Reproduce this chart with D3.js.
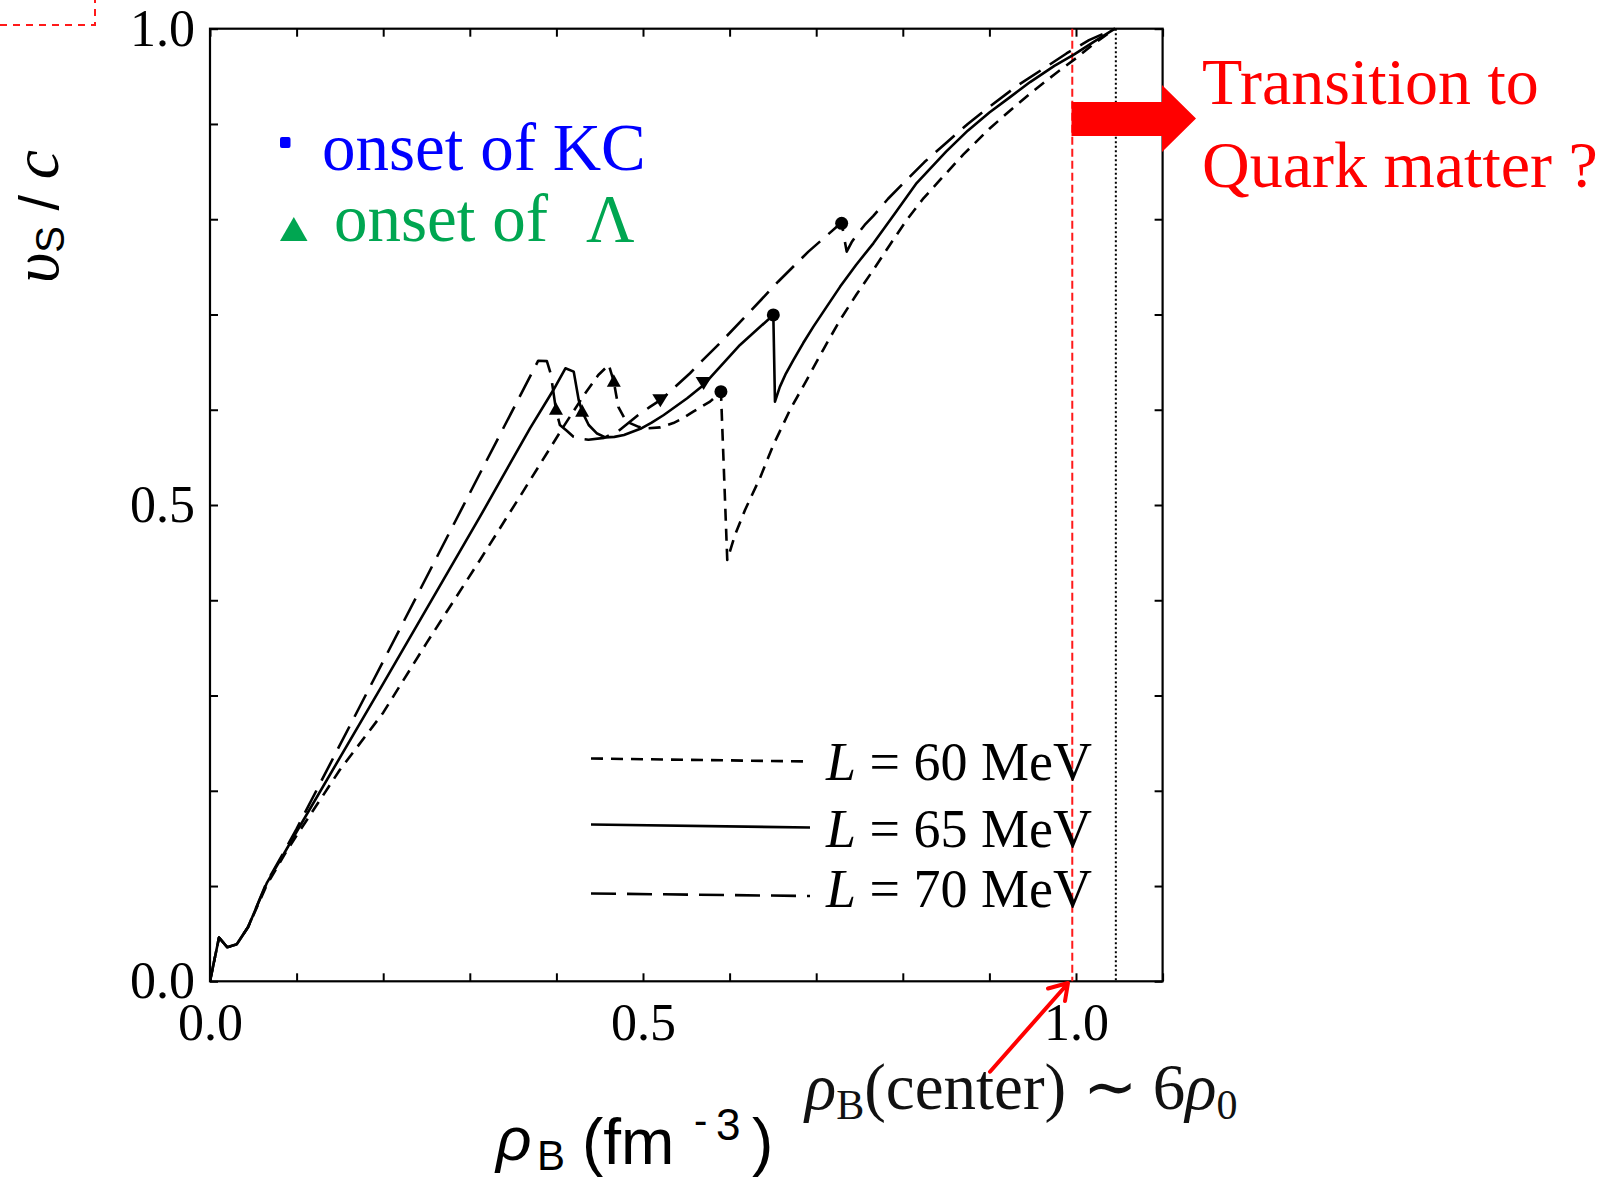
<!DOCTYPE html>
<html><head><meta charset="utf-8">
<script src="https://cdn.jsdelivr.net/npm/d3@7"></script>
<style>body{margin:0;background:#fff;} svg{display:block;}</style>
</head><body>
<svg id="c" width="1606" height="1178"></svg>
<script>
// ---------- data ----------
const L60 = [[0,0],[0.0104,0.046],[0.020,0.0357],[0.031,0.039],[0.044,0.057],[0.0655,0.101],[0.0867,0.134],[0.1,0.153],[0.15,0.222],[0.2,0.282],[0.25,0.355],[0.3118,0.4423],[0.36,0.512],[0.408,0.582],[0.433,0.617],[0.4484,0.6365],[0.4605,0.647],[0.4663,0.6295],[0.4715,0.603],[0.478,0.592],[0.485,0.586],[0.495,0.582],[0.5043,0.5805],[0.52,0.5815],[0.535,0.586],[0.546,0.591],[0.558,0.598],[0.5774,0.6085],[0.590,0.619],[0.5973,0.4423],[0.6062,0.4685],[0.6178,0.4948],[0.6351,0.5284],[0.6505,0.563],[0.6697,0.5997],[0.689,0.6312],[0.7079,0.6627],[0.7275,0.6942],[0.7465,0.721],[0.7659,0.7467],[0.785,0.773],[0.8045,0.7992],[0.823,0.821],[0.843,0.8412],[0.87,0.868],[0.9,0.895],[0.925,0.915],[0.95,0.934],[0.975,0.952],[1.0,0.969],[1.022,0.985],[1.045,1.0]];
const L65 = [[0,0],[0.0104,0.046],[0.020,0.0357],[0.031,0.039],[0.044,0.057],[0.0655,0.103],[0.0867,0.136],[0.1,0.157],[0.2,0.3125],[0.3118,0.4877],[0.3695,0.5805],[0.3965,0.6207],[0.4104,0.6435],[0.420,0.640],[0.4258,0.610],[0.4297,0.598],[0.4373,0.584],[0.447,0.575],[0.4566,0.571],[0.467,0.5715],[0.478,0.5735],[0.497,0.580],[0.51,0.5865],[0.524,0.5945],[0.551,0.612],[0.570,0.626],[0.612,0.668],[0.6505,0.6995],[0.6524,0.6085],[0.658,0.624],[0.665,0.638],[0.6736,0.652],[0.685,0.670],[0.6966,0.687],[0.712,0.708],[0.7275,0.729],[0.746,0.752],[0.766,0.7747],[0.79,0.805],[0.816,0.838],[0.85,0.871],[0.875,0.893],[0.9,0.912],[0.925,0.929],[0.947,0.944],[0.975,0.961],[0.998,0.973],[1.02,0.986],[1.045,1.0]];
const L70 = [[0,0],[0.0104,0.046],[0.020,0.0357],[0.031,0.039],[0.044,0.057],[0.0655,0.104],[0.0867,0.138],[0.1,0.160],[0.2,0.336],[0.3118,0.5333],[0.379,0.6515],[0.389,0.651],[0.3934,0.638],[0.3995,0.600],[0.404,0.584],[0.412,0.578],[0.4197,0.5717],[0.428,0.5695],[0.437,0.5685],[0.455,0.5705],[0.472,0.578],[0.4945,0.5945],[0.508,0.603],[0.520,0.610],[0.5331,0.6207],[0.5543,0.6383],[0.5678,0.651],[0.589,0.670],[0.6236,0.703],[0.656,0.7344],[0.691,0.766],[0.7237,0.792],[0.7294,0.7957],[0.7352,0.766],[0.741,0.776],[0.7467,0.7834],[0.756,0.794],[0.766,0.8035],[0.783,0.8215],[0.8006,0.8377],[0.825,0.86],[0.85,0.88],[0.875,0.9],[0.9,0.918],[0.932,0.94],[0.964,0.959],[0.989,0.974],[1.015,0.988],[1.045,1.0]];
const lambdaOnsets = [[0.3995,0.600],[0.4297,0.598],[0.4663,0.6295]];
const downMarks = [[0.520,0.610],[0.570,0.628]];
const kcOnsets = [[0.590,0.619],[0.6505,0.6995],[0.7294,0.7957]];
const xTickVals = [0,0.1,0.2,0.3,0.4,0.5,0.6,0.7,0.8,0.9,1.0,1.1];
const yTickVals = [0,0.1,0.2,0.3,0.4,0.5,0.6,0.7,0.8,0.9,1.0];
const labeledTicks = [0, 0.5, 1.0];
const tickLabels = ["0.0","0.5","1.0"];
const centerDensity = 0.9957;   // red dashed line
const maxDensity = 1.046;       // dotted line
const seriesNames = ["L = 60 MeV","L = 65 MeV","L = 70 MeV"];

// ---------- drawing ----------
const svg = d3.select('#c');
const SERIF = "'Liberation Serif','Times New Roman',serif";
const SANS = "'Liberation Sans',Arial,sans-serif";
const x = d3.scaleLinear().domain([0,1.1]).range([210,1162.6]);
const y = d3.scaleLinear().domain([0,1]).range([981.3,28.7]);

svg.append('defs').append('clipPath').attr('id','pc')
  .append('rect').attr('x',x(0)).attr('y',y(1)-2).attr('width',x(1.1)-x(0)).attr('height',y(0)-y(1)+2);

function fmt(d){ const i = labeledTicks.findIndex(v=>Math.abs(v-d)<1e-9); return i>=0 ? tickLabels[i] : ''; }
function styleAxis(g){
  g.select('.domain').remove();
  g.selectAll('.tick line').attr('stroke','#000').attr('stroke-width',2);
  g.attr('font-family',SERIF).attr('font-size',52);
  g.selectAll('.tick text').attr('fill','#000');
}
svg.append('g').attr('transform',`translate(0,${y(0)})`)
  .call(d3.axisBottom(x).tickValues(xTickVals).tickSize(-8).tickPadding(22).tickFormat(fmt)).call(styleAxis);
svg.append('g').attr('transform',`translate(0,${y(1)})`)
  .call(d3.axisTop(x).tickValues(xTickVals).tickSize(-8).tickFormat('')).call(styleAxis);
svg.append('g').attr('transform',`translate(${x(0)},0)`)
  .call(d3.axisLeft(y).tickValues(yTickVals).tickSize(-8).tickPadding(15).tickFormat(fmt)).call(styleAxis);
svg.append('g').attr('transform',`translate(${x(1.1)},0)`)
  .call(d3.axisRight(y).tickValues(yTickVals).tickSize(-8).tickFormat('')).call(styleAxis);

// frame
svg.append('rect').attr('x',x(0)).attr('y',y(1)).attr('width',x(1.1)-x(0)).attr('height',y(0)-y(1))
  .attr('fill','none').attr('stroke','#000').attr('stroke-width',2.2);

// vertical reference lines
svg.append('line').attr('x1',x(maxDensity)).attr('x2',x(maxDensity)).attr('y1',y(1)).attr('y2',y(0))
  .attr('stroke','#000').attr('stroke-width',2).attr('stroke-dasharray','2,2.5');
svg.append('line').attr('x1',x(centerDensity)).attr('x2',x(centerDensity)).attr('y1',y(1)).attr('y2',y(0))
  .attr('stroke','#ff1a1a').attr('stroke-width',2).attr('stroke-dasharray','8,4');

// curves
const line = d3.line().x(d=>x(d[0])).y(d=>y(d[1]));
const gC = svg.append('g').attr('clip-path','url(#pc)');
const styles = [{d:L60,dash:'12,8'},{d:L65,dash:null},{d:L70,dash:'25,11'}];
styles.forEach(s=>{
  gC.append('path').datum(s.d).attr('d',line).attr('fill','none').attr('stroke','#000')
    .attr('stroke-width',2.6).attr('stroke-linejoin','round').attr('stroke-dasharray',s.dash);
});
// markers
gC.selectAll('.up').data(lambdaOnsets).join('path').attr('class','up')
  .attr('d',d=>{const cx=x(d[0]),cy=y(d[1]);return `M${cx-7},${cy+5}L${cx+7},${cy+5}L${cx},${cy-7.5}Z`;}).attr('fill','#000');
gC.selectAll('.dn').data(downMarks).join('path').attr('class','dn')
  .attr('d',d=>{const cx=x(d[0]),cy=y(d[1]);return `M${cx-8},${cy-6}L${cx+8},${cy-6}L${cx},${cy+7}Z`;}).attr('fill','#000');
gC.selectAll('.dot').data(kcOnsets).join('circle').attr('class','dot')
  .attr('cx',d=>x(d[0])).attr('cy',d=>y(d[1])).attr('r',6.5).attr('fill','#000');

// legend (line styles)
const legY = [[758.5,761.5],[824.5,827.5],[893.5,896]];
const legTextY = [780, 847, 907];
styles.forEach((s,i)=>{
  svg.append('line').attr('x1',591).attr('x2',810).attr('y1',legY[i][0]).attr('y2',legY[i][1])
    .attr('stroke','#000').attr('stroke-width',2.6).attr('stroke-dasharray',s.dash);
  const t = svg.append('text').attr('x',826).attr('y',legTextY[i]).attr('font-family',SERIF).attr('font-size',54).attr('fill','#000');
  const parts = seriesNames[i].split(' ');
  t.append('tspan').attr('font-style','italic').text(parts[0]);
  t.append('tspan').text(' ' + parts.slice(1).join(' '));
});

// onset legend
svg.append('rect').attr('x',280).attr('y',137).attr('width',10.5).attr('height',11).attr('rx',2).attr('fill','#0000ff');
svg.append('text').attr('x',322).attr('y',170).attr('font-family',SERIF).attr('font-size',67).attr('fill','#0000ff').text('onset of KC');
svg.append('path').attr('d','M280,241L307.5,241L293.8,217Z').attr('fill','#00a651');
const gt = svg.append('text').attr('y',241).attr('font-family',SERIF).attr('font-size',67).attr('fill','#00a651');
gt.append('tspan').attr('x',334).text('onset of');
gt.append('tspan').attr('x',586).text('Λ');

// red annotation (thick arrow + text)
svg.append('path').attr('d','M1071.5,102L1162,102L1162,85L1196,118.5L1162,152L1162,136L1071.5,136Z').attr('fill','#ff0000');
svg.append('text').attr('x',1202).attr('y',104).attr('font-family',SERIF).attr('font-size',66).attr('fill','#ff0000').text('Transition to');
svg.append('text').attr('x',1202).attr('y',187).attr('font-family',SERIF).attr('font-size',66).attr('fill','#ff0000').text('Quark matter ?');

// thin red arrow
svg.append('path').attr('d','M990,1071.7L1067,984.5M1048,988.5L1068,983L1065,1001')
  .attr('fill','none').attr('stroke','#ff0000').attr('stroke-width',4).attr('stroke-linecap','round').attr('stroke-linejoin','round');
const ct = svg.append('text').attr('x',805).attr('y',1109).attr('font-family',SERIF).attr('font-size',65).attr('fill','#111');
ct.append('tspan').attr('font-style','italic').text('ρ');
ct.append('tspan').attr('font-size',42).attr('dy',10).text('B');
ct.append('tspan').attr('dy',-10).text('(center) ∼ 6');
ct.append('tspan').attr('font-style','italic').text('ρ');
ct.append('tspan').attr('font-size',42).attr('dy',10).text('0');

// red dashed partial box top-left
svg.append('path').attr('d','M0,25L95,25L95,0').attr('fill','none').attr('stroke','#ff1a1a').attr('stroke-width',2).attr('stroke-dasharray','7,6');

// axis titles
const yt = svg.append('text').attr('transform','translate(58,283) rotate(-90)').attr('fill','#000');
yt.append('tspan').attr('font-family',SERIF).attr('font-style','italic').attr('font-size',66).text('υ');
yt.append('tspan').attr('font-family',SANS).attr('font-size',40).attr('dy',6).text('S');
yt.append('tspan').attr('font-family',SANS).attr('font-size',56).attr('dy',-6).text(' / ');
yt.append('tspan').attr('font-family',SERIF).attr('font-style','italic').attr('font-size',66).text('c');

const xt = svg.append('text').attr('fill','#000').attr('font-family',SANS);
xt.append('tspan').attr('x',496).attr('y',1160).attr('font-style','italic').attr('font-size',62).text('ρ');
xt.append('tspan').attr('x',537).attr('y',1170).attr('font-size',42).text('B');
xt.append('tspan').attr('x',582).attr('y',1164).attr('font-size',64).text('(fm');
xt.append('tspan').attr('x',694).attr('y',1134).attr('font-size',40).text('-');
xt.append('tspan').attr('x',716).attr('y',1140).attr('font-size',44).text('3');
xt.append('tspan').attr('x',752).attr('y',1164).attr('font-size',64).text(')');
</script>
</body></html>
